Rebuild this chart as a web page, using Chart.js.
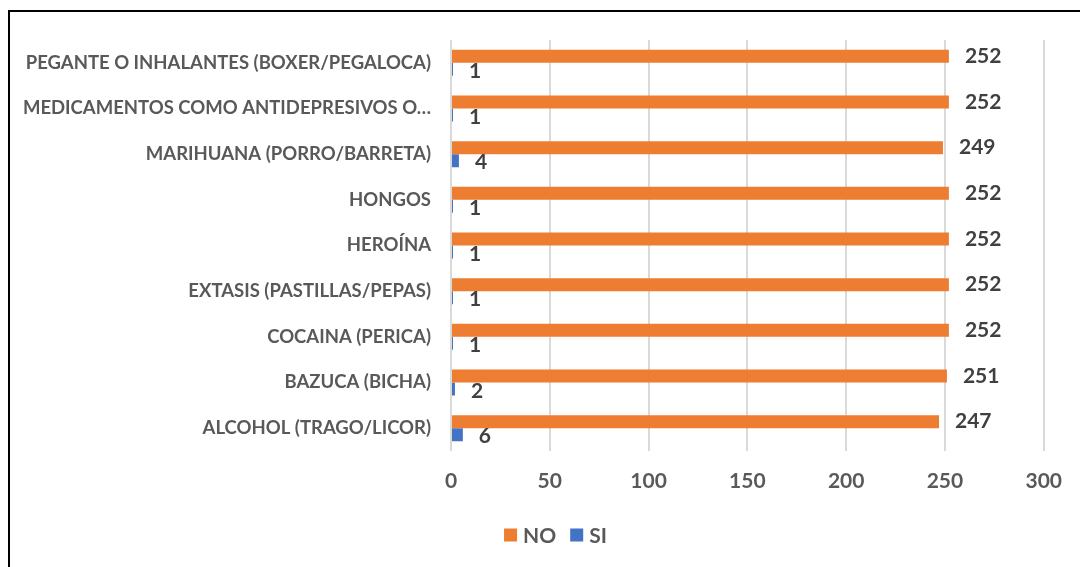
<!DOCTYPE html>
<html>
<head>
<meta charset="utf-8">
<script src="https://cdn.jsdelivr.net/npm/chart.js@4.4.1/dist/chart.umd.min.js"></script>
<style>
  html, body { margin: 0; padding: 0; background: #fff; }
  #wrap { position: relative; width: 1080px; height: 567px; overflow: hidden; }
  #frame { position: absolute; left: 8px; top: 10px; width: 1100px; height: 600px; border: 2px solid #000; box-sizing: border-box; pointer-events: none; }
  canvas { position: absolute; left: 0; top: 0; }
</style>
</head>
<body>
<div id="wrap">
  <canvas id="c" width="1080" height="567"></canvas>
  <div id="frame"></div>
</div>
<script>
const categories = [
  "PEGANTE O INHALANTES (BOXER/PEGALOCA)",
  "MEDICAMENTOS COMO ANTIDEPRESIVOS O…",
  "MARIHUANA (PORRO/BARRETA)",
  "HONGOS",
  "HEROÍNA",
  "EXTASIS (PASTILLAS/PEPAS)",
  "COCAINA (PERICA)",
  "BAZUCA (BICHA)",
  "ALCOHOL (TRAGO/LICOR)"
];
const seriesNames = ["NO", "SI"];
const noValues = [252, 252, 249, 252, 252, 252, 252, 251, 247];
const siValues = [1, 1, 4, 1, 1, 1, 1, 2, 6];
const xTicks = [0, 50, 100, 150, 200, 250, 300];

const FONT = "Lato";

const valueLabels = {
  id: 'valueLabels',
  afterDatasetsDraw(chart) {
    const ctx = chart.ctx;
    ctx.save();
    ctx.font = "bold 21px " + FONT;
    ctx.fillStyle = "#404040";
    ctx.textAlign = "left";
    ctx.textBaseline = "middle";
    chart.data.datasets.forEach((ds, di) => {
      const meta = chart.getDatasetMeta(di);
      meta.data.forEach((bar, i) => {
        ctx.fillText(String(ds.data[i]), bar.x + 16, bar.y + (di === 1 ? 2 : 0));
      });
    });
    ctx.restore();
  }
};

const customLegend = {
  id: 'customLegend',
  afterDraw(chart) {
    const ctx = chart.ctx;
    ctx.save();
    ctx.font = "bold 21px " + FONT;
    ctx.textBaseline = "middle";
    ctx.textAlign = "left";
    const box = 13, gapText = 6, gapItem = 14;
    const items = chart.data.datasets.map(ds => ({ label: ds.label, color: ds.backgroundColor, w: ctx.measureText(ds.label).width }));
    let total = 0;
    items.forEach((it, i) => { total += box + gapText + it.w + (i < items.length - 1 ? gapItem : 0); });
    const cx = 555.5, cy = 535;
    let x = cx - total / 2;
    items.forEach(it => {
      ctx.fillStyle = it.color;
      ctx.fillRect(x, cy - box / 2, box, box);
      x += box + gapText;
      ctx.fillStyle = "#595959";
      ctx.fillText(it.label, x, cy + 1);
      x += it.w + gapItem;
    });
    ctx.restore();
  }
};

new Chart(document.getElementById('c'), {
  type: 'bar',
  data: {
    labels: categories,
    datasets: [
      { label: seriesNames[0], data: noValues, backgroundColor: '#ED7D31', borderWidth: 0 },
      { label: seriesNames[1], data: siValues, backgroundColor: '#4472C4', borderWidth: 0 }
    ]
  },
  options: {
    indexAxis: 'y',
    responsive: false,
    animation: false,
    devicePixelRatio: 1,
    layout: { padding: { top: 40, right: 32, left: 0, bottom: 0 } },
    datasets: { bar: { categoryPercentage: 0.57, barPercentage: 1.0 } },
    scales: {
      x: {
        min: 0, max: 300,
        afterBuildTicks(scale) { scale.ticks = xTicks.map(v => ({ value: v })); },
        afterFit(scale) { scale.height = 567 - 451; },
        grid: { color: '#d9d9d9', lineWidth: 2, drawTicks: false },
        border: { display: false },
        ticks: { color: '#595959', font: { family: FONT, size: 21, weight: 'bold' }, padding: 18 }
      },
      y: {
        afterFit(scale) { scale.width = 451; },
        grid: { display: false, drawTicks: false },
        border: { display: false },
        ticks: { color: '#595959', font: { family: FONT, size: 18.5, weight: 'bold' }, padding: 20, autoSkip: false }
      }
    },
    plugins: {
      legend: { display: false },
      tooltip: { enabled: false }
    }
  },
  plugins: [valueLabels, customLegend]
});
</script>
</body>
</html>
